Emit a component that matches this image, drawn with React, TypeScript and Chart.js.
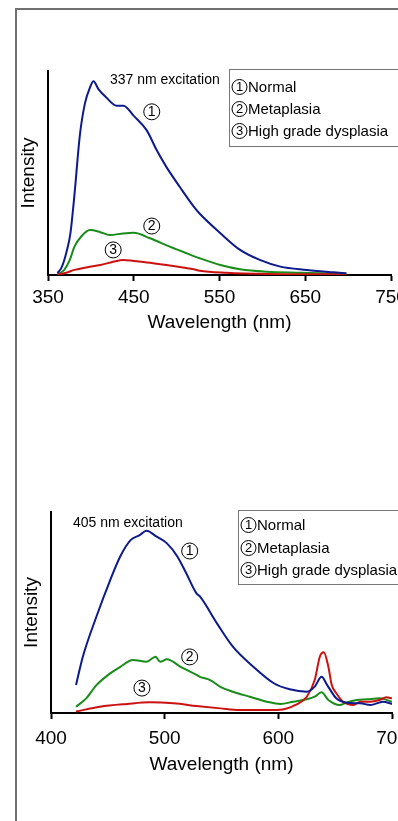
import React, { useEffect, useRef } from 'react';
import { Chart, registerables } from 'chart.js';

Chart.register(...registerables);

// ---------- 337 nm excitation ----------
const wl337Normal = [361, 365, 368, 372, 376, 381, 387, 393, 399, 403, 409, 418, 430, 438, 450, 465, 477, 488, 504, 520, 527, 551, 574, 597, 621, 652, 683, 698];
const int337Normal = [0.01, 0.03, 0.06, 0.12, 0.2, 0.4, 0.68, 0.84, 0.92, 0.95, 0.91, 0.87, 0.83, 0.83, 0.78, 0.71, 0.61, 0.53, 0.43, 0.335, 0.3, 0.205, 0.123, 0.074, 0.041, 0.025, 0.013, 0.008];
const wl337Meta = [361, 365, 369, 375, 381, 389, 399, 411, 422, 438, 450, 469, 492, 512, 527, 551, 574, 605, 644, 698];
const int337Meta = [0.005, 0.012, 0.025, 0.07, 0.14, 0.19, 0.22, 0.21, 0.196, 0.204, 0.207, 0.18, 0.139, 0.106, 0.082, 0.049, 0.028, 0.016, 0.011, 0.005];
const wl337High = [361, 370, 381, 396, 411, 426, 438, 450, 469, 496, 520, 527, 558, 605, 650, 698];
const int337High = [0.002, 0.01, 0.025, 0.038, 0.049, 0.065, 0.074, 0.069, 0.06, 0.044, 0.028, 0.021, 0.011, 0.005, 0.004, 0.003];
const ticks337 = [350, 450, 550, 650, 750];

// ---------- 405 nm excitation ----------
const wl405Normal = [422, 428, 440, 452, 461, 470, 478, 484, 493, 502, 511, 519, 528, 531, 546, 560, 578, 596, 610, 625, 632, 638, 643, 651, 660, 672, 681, 692, 700];
const int405Normal = [0.139, 0.28, 0.48, 0.66, 0.78, 0.86, 0.885, 0.907, 0.877, 0.844, 0.78, 0.695, 0.595, 0.58, 0.446, 0.33, 0.23, 0.148, 0.118, 0.106, 0.131, 0.18, 0.139, 0.073, 0.051, 0.048, 0.04, 0.056, 0.045];
const wl405Meta = [422, 431, 440, 452, 461, 472, 484, 492, 496, 502, 514, 528, 531, 540, 549, 560, 575, 590, 602, 613, 625, 632, 638, 644, 654, 660, 669, 678, 689, 700];
const int405Meta = [0.031, 0.073, 0.139, 0.197, 0.23, 0.264, 0.255, 0.28, 0.255, 0.267, 0.23, 0.19, 0.18, 0.164, 0.13, 0.106, 0.081, 0.056, 0.045, 0.056, 0.068, 0.081, 0.103, 0.065, 0.04, 0.053, 0.065, 0.068, 0.073, 0.056];
const wl405High = [422, 443, 467, 487, 508, 528, 549, 566, 590, 604, 615, 625, 632, 636.5, 640, 644, 647, 651, 657, 666, 672, 681, 689, 695, 700];
const int405High = [0.007, 0.031, 0.045, 0.053, 0.048, 0.035, 0.023, 0.015, 0.015, 0.018, 0.04, 0.081, 0.164, 0.28, 0.302, 0.23, 0.139, 0.098, 0.056, 0.04, 0.056, 0.056, 0.065, 0.078, 0.073];
const ticks405 = [400, 500, 600, 700];

const seriesNames = ['Normal', 'Metaplasia', 'High grade dysplasia'];
const seriesMarks = ['1', '2', '3'];

const COLORS = ['#0d1a8e', '#1a8c1a', '#cc1111'];
const FONT = '"Liberation Sans", Arial, sans-serif';

type Cfg = {
  title: string;
  titleX: number;
  titleY: number;
  yTitleX: number;
  xTitleOff: number;
  legendX: number;
  legendY: number;
  legendH: number;
  rowY: number[];
  marks: { x: number; y: number }[];
};

function circleNum(ctx: CanvasRenderingContext2D, cx: number, cy: number, r: number, t: string, fs: number) {
  ctx.beginPath();
  ctx.arc(cx, cy, r, 0, Math.PI * 2);
  ctx.lineWidth = 1;
  ctx.strokeStyle = '#000';
  ctx.stroke();
  ctx.font = `${fs}px ${FONT}`;
  ctx.textAlign = 'center';
  ctx.textBaseline = 'middle';
  ctx.fillStyle = '#000';
  ctx.fillText(t, cx, cy + 0.5);
}

function makeOverlay(cfg: Cfg) {
  return {
    id: 'overlay',
    afterDraw(chart: any) {
      const ctx: CanvasRenderingContext2D = chart.ctx;
      const { left, right, top, bottom } = chart.chartArea;
      const xs = chart.scales.x;
      const ys = chart.scales.y;
      ctx.save();
      ctx.fillStyle = '#000';
      // y title
      ctx.save();
      ctx.font = `19px ${FONT}`;
      ctx.translate(cfg.yTitleX, (top + bottom) / 2);
      ctx.rotate(-Math.PI / 2);
      ctx.textAlign = 'center';
      ctx.textBaseline = 'middle';
      ctx.fillText('Intensity', 0, 0);
      ctx.restore();
      // x title
      ctx.font = `19px ${FONT}`;
      ctx.textAlign = 'center';
      ctx.textBaseline = 'middle';
      ctx.fillText('Wavelength (nm)', (left + right) / 2, bottom + cfg.xTitleOff);
      // excitation label
      ctx.font = `14px ${FONT}`;
      ctx.textAlign = 'left';
      ctx.fillText(cfg.title, cfg.titleX, cfg.titleY);
      // legend box
      ctx.lineWidth = 1;
      ctx.strokeStyle = '#777';
      ctx.fillStyle = '#fff';
      ctx.fillRect(cfg.legendX + 0.5, cfg.legendY + 0.5, chart.width, cfg.legendH);
      ctx.strokeRect(cfg.legendX + 0.5, cfg.legendY + 0.5, chart.width, cfg.legendH);
      for (let i = 0; i < seriesNames.length; i++) {
        const y = cfg.rowY[i];
        circleNum(ctx, cfg.legendX + 10.5, y, 7.5, seriesMarks[i], 13);
        ctx.font = `15px ${FONT}`;
        ctx.textAlign = 'left';
        ctx.textBaseline = 'middle';
        ctx.fillStyle = '#000';
        ctx.fillText(seriesNames[i], cfg.legendX + 19, y + 0.5);
      }
      // curve annotations
      for (let i = 0; i < cfg.marks.length; i++) {
        const m = cfg.marks[i];
        circleNum(ctx, xs.getPixelForValue(m.x), ys.getPixelForValue(m.y), 8, seriesMarks[i], 14);
      }
      ctx.restore();
    },
  };
}

function SpectrumChart(props: {
  xs: number[][];
  ys: number[][];
  xMin: number;
  xMax: number;
  tickVals: number[];
  pad: { left: number; right: number; top: number; bottom: number };
  tickPad: number;
  cfg: Cfg;
  top: number;
  width: number;
  height: number;
}) {
  const ref = useRef<HTMLCanvasElement | null>(null);
  useEffect(() => {
    if (!ref.current) return;
    const datasets = props.xs.map((xv, i) => ({
      label: seriesNames[i],
      data: xv.map((x, j) => ({ x, y: props.ys[i][j] })),
      borderColor: COLORS[i],
      backgroundColor: COLORS[i],
      borderWidth: 2,
      pointRadius: 0,
      fill: false,
      cubicInterpolationMode: 'monotone' as const,
      order: i === 0 ? 0 : i === 2 ? 1 : 2,
    }));
    const chart = new Chart(ref.current, {
      type: 'line',
      data: { datasets },
      options: {
        animation: false,
        responsive: false,
        maintainAspectRatio: false,
        events: [],
        layout: { padding: props.pad },
        plugins: { legend: { display: false }, tooltip: { enabled: false }, title: { display: false } },
        scales: {
          x: {
            type: 'linear',
            min: props.xMin,
            max: props.xMax,
            afterBuildTicks: (scale: any) => {
              scale.ticks = props.tickVals.map((v) => ({ value: v }));
            },
            afterFit: (scale: any) => {
              scale.height = 40;
            },
            ticks: {
              color: '#000',
              font: { family: FONT, size: 19 },
              padding: props.tickPad,
              maxRotation: 0,
              autoSkip: false,
            },
            grid: { drawOnChartArea: false, drawTicks: true, tickLength: 6, tickWidth: 2, color: '#000' },
            border: { display: true, color: '#000', width: 2 },
          },
          y: {
            type: 'linear',
            min: 0,
            max: 1,
            afterFit: (scale: any) => {
              scale.width = 0;
            },
            ticks: { display: false },
            grid: { display: false, drawTicks: false },
            border: { display: true, color: '#000', width: 2 },
          },
        },
      },
      plugins: [makeOverlay(props.cfg)],
    });
    return () => chart.destroy();
  }, []);
  return (
    <canvas
      ref={ref}
      width={props.width}
      height={props.height}
      style={{ position: 'absolute', left: 0, top: props.top, width: props.width, height: props.height }}
    />
  );
}

export default function App() {
  const W = 430;
  return (
    <div style={{ position: 'absolute', left: 0, top: 0, width: 398, height: 821, overflow: 'hidden', background: '#fff' }}>
      <div
        style={{
          position: 'absolute',
          left: 15,
          top: 8,
          width: 600,
          height: 1000,
          borderTop: '2px solid #707070',
          borderLeft: '2px solid #707070',
          boxSizing: 'border-box',
        }}
      />
      <SpectrumChart
        xs={[wl337Normal, wl337Meta, wl337High]}
        ys={[int337Normal, int337Meta, int337High]}
        xMin={350}
        xMax={750}
        tickVals={ticks337}
        pad={{ left: 48, right: W - 391, top: 31, bottom: 310 - 235 - 40 }}
        tickPad={5}
        top={40}
        width={W}
        height={310}
        cfg={{
          title: '337 nm excitation',
          titleX: 110,
          titleY: 40,
          yTitleX: 29,
          xTitleOff: 48,
          legendX: 229,
          legendY: 29,
          legendH: 77,
          rowY: [47, 69, 91],
          marks: [
            { x: 471, y: 0.8 },
            { x: 471, y: 0.24 },
            { x: 426, y: 0.123 },
          ],
        }}
      />
      <SpectrumChart
        xs={[wl405Normal, wl405Meta, wl405High]}
        ys={[int405Normal, int405Meta, int405High]}
        xMin={400}
        xMax={700}
        tickVals={ticks405}
        pad={{ left: 51, right: W - 392, top: 32, bottom: 320 - 233 - 40 }}
        tickPad={8}
        top={480}
        width={W}
        height={320}
        cfg={{
          title: '405 nm excitation',
          titleX: 73,
          titleY: 43,
          yTitleX: 32,
          xTitleOff: 52,
          legendX: 238,
          legendY: 30,
          legendH: 74,
          rowY: [45, 68, 90],
          marks: [
            { x: 522, y: 0.806 },
            { x: 522, y: 0.279 },
            { x: 480, y: 0.124 },
          ],
        }}
      />
    </div>
  );
}
